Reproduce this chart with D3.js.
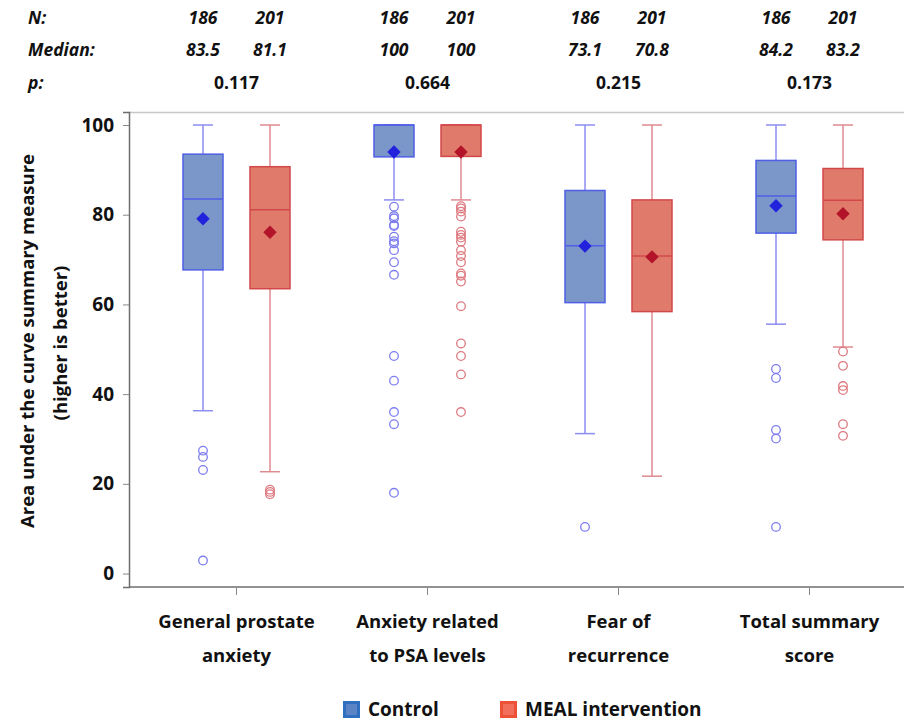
<!DOCTYPE html>
<html>
<head>
<meta charset="utf-8">
<script src="https://cdn.jsdelivr.net/npm/d3@7"></script>
<style>
  body { margin: 0; background: #fff; }
  svg { display: block; }
  text { font-family: "Open Sans", Lato, sans-serif; font-weight: bold; fill: #111; }
</style>
</head>
<body>
<script>
// categories and groups
const categories = ["General prostate anxiety", "Anxiety related to PSA levels", "Fear of recurrence", "Total summary score"]
const categoryLines = [["General prostate", "anxiety"], ["Anxiety related", "to PSA levels"], ["Fear of", "recurrence"], ["Total summary", "score"]]
const groups = ["Control", "MEAL intervention"]

// header table
const nLabels = [["186", "201"], ["186", "201"], ["186", "201"], ["186", "201"]]
const medianLabels = [["83.5", "81.1"], ["100", "100"], ["73.1", "70.8"], ["84.2", "83.2"]]
const pLabels = ["0.117", "0.664", "0.215", "0.173"]

// box stats, [control, meal] per category
const q1 = [[67.7, 63.5], [92.9, 93.0], [60.4, 58.4], [75.9, 74.4]]
const median = [[83.5, 81.1], [100, 100], [73.1, 70.8], [84.2, 83.2]]
const q3 = [[93.5, 90.7], [100, 100], [85.4, 83.3], [92.1, 90.3]]
const mean = [[79.1, 76.1], [94.0, 94.0], [73.0, 70.6], [82.0, 80.2]]
const whiskerLow = [[36.3, 22.7], [83.3, 83.3], [31.2, 21.7], [55.6, 50.5]]
const whiskerHigh = [[100, 100], [100, 100], [100, 100], [100, 100]]
const outliers = [
    [[27.4, 26.0, 23.1, 2.9], [18.7, 18.2, 17.7]],
    [[81.8, 79.7, 79.2, 77.7, 77.5, 75.1, 74.1, 73.6, 72.1, 69.4, 66.6, 48.5, 43.0, 36.0, 33.3, 18.0],
     [81.9, 81.4, 80.7, 79.6, 76.2, 75.5, 74.9, 74.0, 72.1, 70.8, 69.4, 66.9, 66.4, 65.1, 59.6, 51.3, 48.5, 44.4, 36.0]],
    [[10.4], []],
    [[45.6, 43.6, 32.0, 30.1, 10.4], [49.5, 46.3, 41.8, 40.9, 33.3, 30.7]]
]
const yTicks = [0, 20, 40, 60, 80, 100]

const width = 904
const height = 723
const plotLeft = 129
const plotTop = 112
const plotBottom = 587
const boxWidth = 40
const capWidth = 20

const colors = {
    boxFill: ["#7b96c9", "#e07b6b"],
    boxStroke: ["#4f5fe6", "#d2484a"],
    whisker: ["#8c8cf2", "#df8a90"],
    outlier: ["#7d7df0", "#dd7a80"],
    mean: ["#2222dd", "#b3142a"],
    legendEdge: ["#2f6fc0", "#ee5236"],
    legendFill: ["#5a84c6", "#f26f5c"]
}

const svg = d3.select("body").append("svg")
    .attr("width", width)
    .attr("height", height)

const x = d3.scaleBand(categories, [141, 905])
const xg = d3.scalePoint(groups, [-33.5, 33.5])
const y = d3.scaleLinear([-3, 102.9], [plotBottom, plotTop])

const cx = (ci, gi) => x(categories[ci]) + x.bandwidth() / 2 + xg(groups[gi])

// frame
svg.append("line")
    .attr("x1", plotLeft).attr("x2", width)
    .attr("y1", plotTop + 0.5).attr("y2", plotTop + 0.5)
    .attr("stroke", "#c8c8c8").attr("stroke-width", 1.5)
svg.append("line")
    .attr("x1", plotLeft).attr("x2", width)
    .attr("y1", plotBottom).attr("y2", plotBottom)
    .attr("stroke", "#6e6e6e").attr("stroke-width", 1.5)

// y axis
svg.append("g")
    .attr("transform", `translate(${plotLeft},0)`)
    .call(d3.axisLeft(y).tickValues(yTicks).tickSizeOuter(0).tickSize(6).tickPadding(9))
    .call(g => g.select(".domain").attr("stroke", "#6e6e6e").attr("stroke-width", 1.5))
    .call(g => g.selectAll(".tick line").attr("stroke", "#888"))
    .call(g => g.selectAll(".tick text")
        .attr("font-size", 19).attr("font-family", "'Open Sans', sans-serif").attr("font-weight", "bold").attr("fill", "#111"))

// x axis ticks
svg.append("g")
    .attr("transform", `translate(0,${plotBottom})`)
    .call(d3.axisBottom(x).tickSize(8).tickFormat(""))
    .call(g => g.select(".domain").remove())
    .call(g => g.selectAll(".tick line").attr("stroke", "#888"))

// category labels
svg.append("g").selectAll("text")
    .data(categories)
    .join("text")
    .attr("text-anchor", "middle")
    .attr("font-size", 18.5)
    .attr("x", d => x(d) + x.bandwidth() / 2)
    .attr("y", 628)
    .each(function (d, i) {
        d3.select(this).selectAll("tspan")
            .data(categoryLines[i])
            .join("tspan")
            .attr("x", x(d) + x.bandwidth() / 2)
            .attr("dy", (l, j) => j === 0 ? 0 : 34)
            .text(l => l)
    })

// y title
svg.append("text")
    .attr("transform", `translate(34,341) rotate(-90)`)
    .attr("text-anchor", "middle")
    .attr("font-size", 18.5)
    .text("Area under the curve summary measure")
svg.append("text")
    .attr("transform", `translate(67,343) rotate(-90)`)
    .attr("text-anchor", "middle")
    .attr("font-size", 18.5)
    .text("(higher is better)")

// boxes
const boxData = []
categories.forEach((c, ci) => groups.forEach((g, gi) => boxData.push({ ci, gi })))

const box = svg.append("g").selectAll("g")
    .data(boxData)
    .join("g")

box.append("line")
    .attr("x1", d => cx(d.ci, d.gi)).attr("x2", d => cx(d.ci, d.gi))
    .attr("y1", d => y(whiskerLow[d.ci][d.gi])).attr("y2", d => y(whiskerHigh[d.ci][d.gi]))
    .attr("stroke", d => colors.whisker[d.gi]).attr("stroke-width", 1.5)
box.selectAll(".cap")
    .data(d => [whiskerLow, whiskerHigh].map(w => ({ ...d, v: w[d.ci][d.gi] })))
    .join("line")
    .attr("class", "cap")
    .attr("x1", d => cx(d.ci, d.gi) - capWidth / 2).attr("x2", d => cx(d.ci, d.gi) + capWidth / 2)
    .attr("y1", d => y(d.v)).attr("y2", d => y(d.v))
    .attr("stroke", d => colors.whisker[d.gi]).attr("stroke-width", 1.5)

box.append("rect")
    .attr("x", d => cx(d.ci, d.gi) - boxWidth / 2)
    .attr("width", boxWidth)
    .attr("y", d => y(q3[d.ci][d.gi]))
    .attr("height", d => y(q1[d.ci][d.gi]) - y(q3[d.ci][d.gi]))
    .attr("fill", d => colors.boxFill[d.gi])
    .attr("stroke", d => colors.boxStroke[d.gi]).attr("stroke-width", 1.5)

box.append("line")
    .attr("x1", d => cx(d.ci, d.gi) - boxWidth / 2).attr("x2", d => cx(d.ci, d.gi) + boxWidth / 2)
    .attr("y1", d => y(median[d.ci][d.gi])).attr("y2", d => y(median[d.ci][d.gi]))
    .attr("stroke", d => colors.boxStroke[d.gi]).attr("stroke-width", 1.5)

box.selectAll("circle")
    .data(d => outliers[d.ci][d.gi].map(v => ({ ...d, v })))
    .join("circle")
    .attr("cx", d => cx(d.ci, d.gi))
    .attr("cy", d => y(d.v))
    .attr("r", 4.3)
    .attr("fill", "none")
    .attr("stroke", d => colors.outlier[d.gi]).attr("stroke-width", 1.3)

box.append("path")
    .attr("d", d3.symbol(d3.symbolSquare, 90))
    .attr("transform", d => `translate(${cx(d.ci, d.gi)},${y(mean[d.ci][d.gi])}) rotate(45)`)
    .attr("fill", d => colors.mean[d.gi])

// header rows
const header = svg.append("g")
header.selectAll(".rowlabel")
    .data([["N:", 24], ["Median:", 56], ["p:", 89]])
    .join("text")
    .attr("x", 28).attr("y", d => d[1])
    .attr("font-size", 17.5).attr("font-style", "italic")
    .text(d => d[0])

boxData.forEach(d => {
    header.append("text")
        .attr("x", cx(d.ci, d.gi)).attr("y", 24)
        .attr("text-anchor", "middle").attr("font-size", 17.5).attr("font-style", "italic")
        .text(nLabels[d.ci][d.gi])
    header.append("text")
        .attr("x", cx(d.ci, d.gi)).attr("y", 56)
        .attr("text-anchor", "middle").attr("font-size", 17.5).attr("font-style", "italic")
        .text(medianLabels[d.ci][d.gi])
})
header.selectAll(".p")
    .data(categories)
    .join("text")
    .attr("x", d => x(d) + x.bandwidth() / 2).attr("y", 89)
    .attr("text-anchor", "middle").attr("font-size", 17.5)
    .text((d, i) => pLabels[i])

// legend
const legendX = [343, 500]
const legend = svg.append("g").selectAll("g")
    .data(groups)
    .join("g")
    .attr("transform", (d, i) => `translate(${legendX[i]},701)`)
legend.append("rect")
    .attr("width", 17).attr("height", 17)
    .attr("fill", (d, i) => colors.legendEdge[i])
legend.append("rect")
    .attr("x", 3).attr("y", 3).attr("width", 11).attr("height", 11)
    .attr("fill", (d, i) => colors.legendFill[i])
legend.append("text")
    .attr("x", 25).attr("y", 15)
    .attr("font-size", 19)
    .text(d => d)
</script>
</body>
</html>
